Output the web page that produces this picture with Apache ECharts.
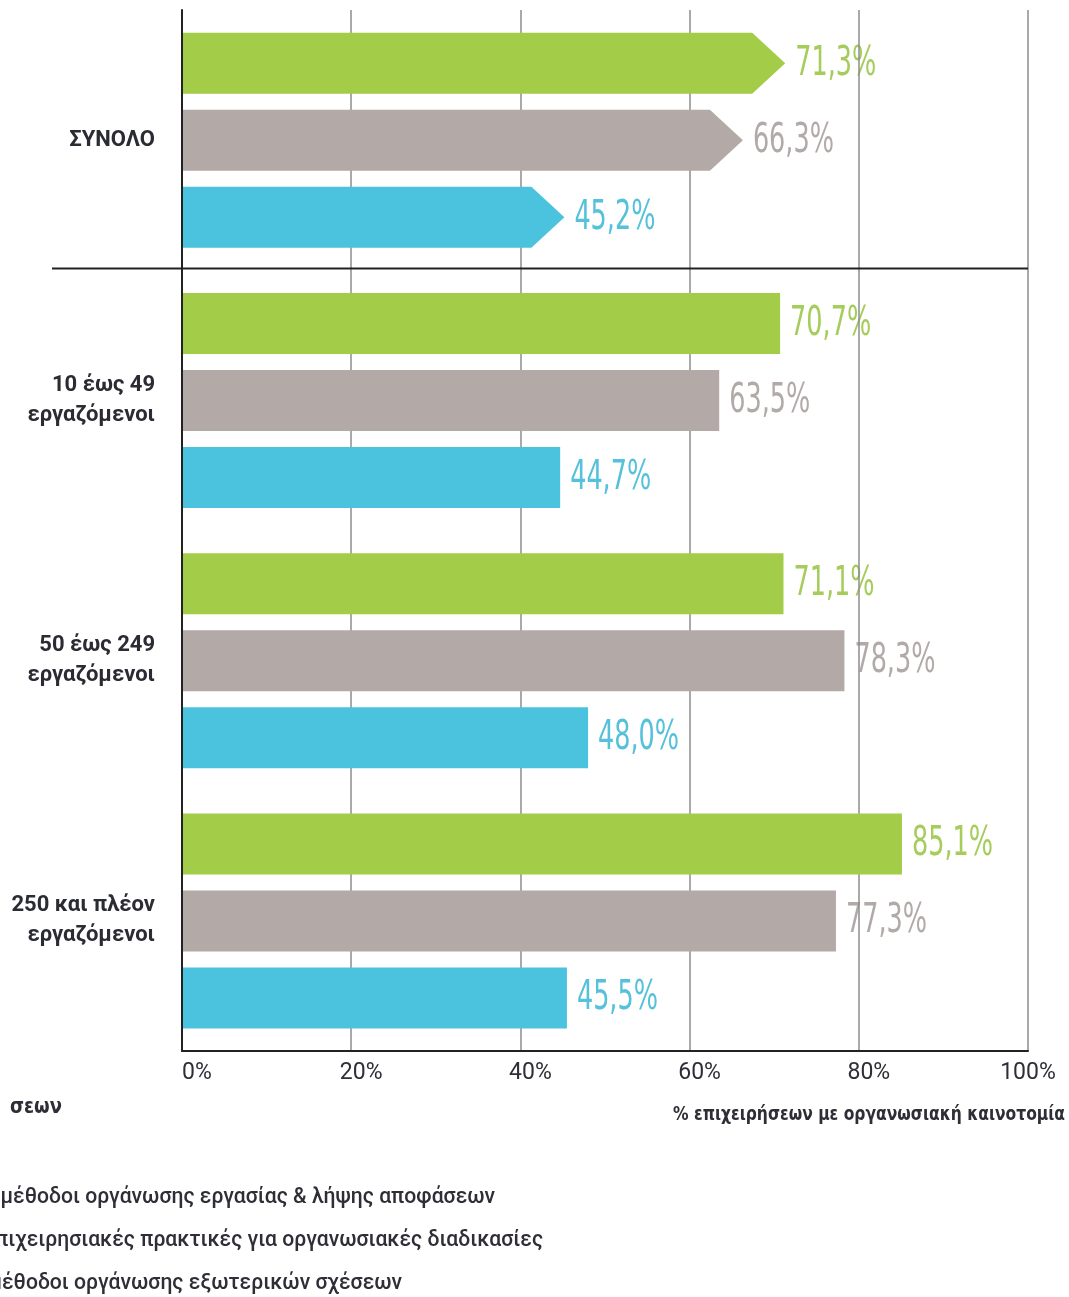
<!DOCTYPE html>
<html>
<head>
<meta charset="utf-8">
<script src="https://cdn.jsdelivr.net/npm/echarts@6/dist/echarts.min.js"></script>
<style>
  html, body { margin: 0; padding: 0; background: #ffffff; }
  #chart { width: 1069px; height: 1297px; }
</style>
</head>
<body>
<div id="chart"></div>
<script>
// Enterprise size classes (top to bottom)
const categories = [
  'ΣΥΝΟΛΟ',
  '10 έως 49\nεργαζόμενοι',
  '50 έως 249\nεργαζόμενοι',
  '250 και πλέον\nεργαζόμενοι'
];

// Types of organisational innovation
const seriesNames = [
  'Νέες μέθοδοι οργάνωσης εργασίας & λήψης αποφάσεων',
  'Νέες επιχειρησιακές πρακτικές για οργανωσιακές διαδικασίες',
  'Νέες μέθοδοι οργάνωσης εξωτερικών σχέσεων'
];

// % of enterprises per innovation type
const workDecisions     = [71.3, 70.7, 71.1, 85.1];
const businessPractices = [66.3, 63.5, 78.3, 77.3];
const externalRelations = [45.2, 44.7, 48.0, 45.5];

const xTicks = [0, 20, 40, 60, 80, 100];
const axisTitle = '% επιχειρήσεων με οργανωσιακή καινοτομία';
const legendTitleTail = 'σεων';

// ---- styling ----
const BAR_COLORS   = ['#a3cd48', '#b3a9a6', '#4bc3de'];
const LABEL_COLORS = ['#a6cc5c', '#b2aaa8', '#55c1da'];
const NARROW = "'Liberation Sans Narrow', 'DejaVu Sans Condensed', 'Roboto Condensed', 'Liberation Sans', sans-serif";
const LABEL_FACE = "Roboto, 'Liberation Sans', sans-serif";
const REGULAR = "Roboto, 'Liberation Sans', sans-serif";
const BAR_H = 61;
const STEP = 77;
const ARROW_HEAD = 33;
const LABEL_GAP = 10;

// helper: horizontal squeeze so a string reaches a given width
const measureCtx = document.createElement('canvas').getContext('2d');
function squeeze(text, font, targetWidth) {
  measureCtx.font = font;
  const w = measureCtx.measureText(text).width;
  return w > 0 ? targetWidth / w : 1;
}

const VALUE_FONT = 'normal 40px ' + NARROW;
const valueScale = squeeze('71,3%', VALUE_FONT, 81);

const allSeriesValues = [workDecisions, businessPractices, externalRelations];

function barRenderer(sIdx) {
  return function (params, api) {
    const val = api.value(0);
    const cat = api.value(1);
    const p0 = api.coord([0, cat]);
    const p1 = api.coord([val, cat]);
    const yc = p0[1] + (sIdx - 1) * STEP;
    const top = yc - BAR_H / 2;
    const bot = yc + BAR_H / 2;
    const x0 = p0[0], x1 = p1[0];
    if (cat === 0) {
      // total row drawn as arrows
      return {
        type: 'polygon',
        shape: { points: [[x0, top], [x1 - ARROW_HEAD, top], [x1, yc], [x1 - ARROW_HEAD, bot], [x0, bot]] },
        style: { fill: BAR_COLORS[sIdx] }
      };
    }
    return {
      type: 'rect',
      shape: { x: x0, y: top, width: x1 - x0, height: BAR_H },
      style: { fill: BAR_COLORS[sIdx] }
    };
  };
}

function labelRenderer(sIdx) {
  return function (params, api) {
    const val = api.value(0);
    const cat = api.value(1);
    const p0 = api.coord([0, cat]);
    const p1 = api.coord([val, cat]);
    const yc = p0[1] + (sIdx - 1) * STEP;
    return {
      type: 'text',
      x: p1[0] + LABEL_GAP,
      y: yc + 1,
      scaleX: valueScale,
      scaleY: 1,
      style: {
        text: val.toFixed(1).replace('.', ',') + '%',
        font: VALUE_FONT,
        fill: LABEL_COLORS[sIdx],
        align: 'left',
        verticalAlign: 'middle'
      }
    };
  };
}

const series = [];
allSeriesValues.forEach(function (vals, sIdx) {
  const data = vals.map(function (v, i) { return [v, i]; });
  series.push({
    type: 'custom',
    name: seriesNames[sIdx],
    z: 2,
    clip: false,
    encode: { x: 0, y: 1 },
    renderItem: barRenderer(sIdx),
    data: data
  });
  series.push({
    type: 'custom',
    name: seriesNames[sIdx],
    z: 0,
    clip: false,
    encode: { x: 0, y: 1 },
    renderItem: labelRenderer(sIdx),
    data: data,
    silent: true
  });
});

// separator under the total row
series.push({
  type: 'custom',
  z: 4,
  clip: false,
  silent: true,
  encode: { x: 0, y: 1 },
  data: [[100, 0]],
  renderItem: function (params, api) {
    const p0 = api.coord([0, 0]);
    const p1 = api.coord([api.value(0), 0]);
    const half = api.size([0, 1])[1] / 2;
    const y = Math.round(p0[1] + half) - 1.5;
    return {
      type: 'line',
      shape: { x1: p0[0] - 130, y1: y, x2: p1[0], y2: y },
      style: { stroke: '#222222', lineWidth: 2 }
    };
  }
});

const LEGEND_FONT = '500 22px ' + REGULAR;
const legendScale = squeeze('έθοδοι οργάνωσης εξωτερικών σχέσεων', LEGEND_FONT, 400);
const TITLE_FONT = 'bold 20px ' + NARROW;
const titleScale = squeeze(axisTitle, TITLE_FONT, 392);
const TAIL_FONT = 'bold 22px ' + NARROW;
const tailScale = squeeze(legendTitleTail, TAIL_FONT, 52);

const legendRightEdges = [495, 543, 402];
const legendRows = [1197, 1240, 1283];

const graphic = [
  {
    type: 'text', x: 1065, y: 1115, scaleX: titleScale, z: 10,
    style: { text: axisTitle, font: TITLE_FONT, fill: '#2e2e36', align: 'right', verticalAlign: 'middle' }
  },
  {
    type: 'text', x: 10, y: 1107, scaleX: tailScale, z: 10,
    style: { text: legendTitleTail, font: TAIL_FONT, fill: '#2e2e36', align: 'left', verticalAlign: 'middle' }
  }
];
seriesNames.forEach(function (name, i) {
  graphic.push({
    type: 'text', x: legendRightEdges[i], y: legendRows[i], scaleX: legendScale, z: 10,
    style: { text: name, font: LEGEND_FONT, fill: '#2e2e36', align: 'right', verticalAlign: 'middle' }
  });
});

const chart = echarts.init(document.getElementById('chart'), null, { renderer: 'canvas' });
chart.setOption({
  animation: false,
  backgroundColor: '#ffffff',
  grid: { left: 182, right: 41, top: 10, bottom: 246, containLabel: false, outerBoundsMode: 'none' },
  xAxis: {
    type: 'value',
    min: xTicks[0],
    max: xTicks[xTicks.length - 1],
    interval: xTicks[1] - xTicks[0],
    z: 1,
    axisLine: { show: true, lineStyle: { color: '#222222', width: 2 } },
    axisTick: { show: false },
    splitLine: { show: true, lineStyle: { color: '#8c8c8c', width: 1.5 } },
    axisLabel: {
      margin: 11,
      color: '#2e2e36',
      fontFamily: REGULAR,
      fontSize: 23,
      formatter: function (v) {
        if (v === xTicks[0]) return '{first|' + v + '%}';
        if (v === xTicks[xTicks.length - 1]) return '{last|' + v + '%}';
        return '{mid|' + v + '%}';
      },
      rich: {
        first: { fontFamily: REGULAR, fontSize: 23, color: '#2e2e36', padding: [0, 0, 0, 30] },
        mid:   { fontFamily: REGULAR, fontSize: 23, color: '#2e2e36', padding: [0, 0, 0, 20] },
        last:  { fontFamily: REGULAR, fontSize: 23, color: '#2e2e36' }
      }
    }
  },
  yAxis: {
    type: 'category',
    data: categories,
    inverse: true,
    z: 3,
    axisLine: { show: true, lineStyle: { color: '#222222', width: 2 } },
    axisTick: { show: false },
    splitLine: { show: false },
    axisLabel: {
      margin: 27,
      color: '#2b2b33',
      fontFamily: LABEL_FACE,
      fontWeight: 'bold',
      fontSize: 22,
      lineHeight: 30,
      align: 'right'
    }
  },
  graphic: graphic,
  series: series
});
</script>
</body>
</html>
